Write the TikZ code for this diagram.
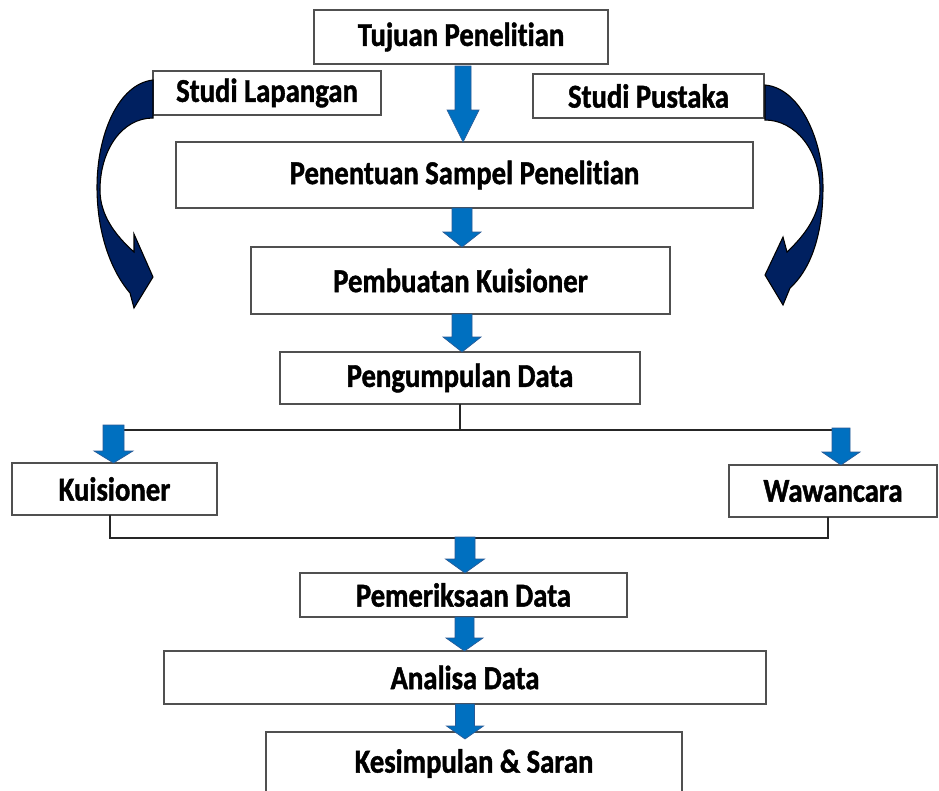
\documentclass[tikz,border=0pt]{standalone}
\usepackage{fontspec}
\setmainfont{Carlito}[FakeStretch=0.86, Ligatures={NoCommon}, BoldFeatures={FakeBold=1.3}]
\usetikzlibrary{calc}
\definecolor{arrblue}{RGB}{0,112,192}
\definecolor{arredge}{RGB}{40,90,150}
\definecolor{navy}{RGB}{0,32,96}
\definecolor{boxedge}{RGB}{80,80,80}
\tikzset{
  box/.style={draw=boxedge, line width=1.1pt, fill=white, inner sep=0pt, outer sep=0pt,
    font=\fontsize{25}{28}\selectfont\bfseries},
  sz/.style 2 args={minimum width=#1*0.75pt, minimum height=#2*0.75pt},
  conn/.style={draw=black!85, line width=1.7pt},
  blk/.style={fill=arrblue, draw=arredge, line width=0.5pt},
  curv/.style={fill=navy, draw=black, line width=0.8pt},
}
% #1 start, #2 tip, #3 shaft half width, #4 head half width, #5 head length (px)
\newcommand\barr[5]{\filldraw[blk] let \p1=(#1),\p2=(#2) in
  (\x1-#3*0.75pt,\y1) -- (\x1+#3*0.75pt,\y1) -- (\x1+#3*0.75pt,\y2+#5*0.75pt)
  -- (\x1+#4*0.75pt,\y2+#5*0.75pt) -- (\x1,\y2) -- (\x1-#4*0.75pt,\y2+#5*0.75pt)
  -- (\x1-#3*0.75pt,\y2+#5*0.75pt) -- cycle;}
\begin{document}
\begin{tikzpicture}[x=0.75pt,y=-0.75pt]
\useasboundingbox (0,0) rectangle (939,790);
\clip (0,0) rectangle (939,790);
\fill[white] (0,0) rectangle (939,790);

% boxes
\node[box,sz={294}{54}] (tuj) at (461,37) {Tujuan Penelitian};
\node[box,sz={228}{44}] (lap) at (267,93) {Studi Lapangan};
\node[box,sz={231}{44}] (pus) at (648.5,96) {Studi Pustaka};
\node[box,sz={577}{66}] (pen) at (464.5,175) {Penentuan Sampel Penelitian};
\node[box,sz={419}{67}] (pem) at (460.5,280.5) {Pembuatan Kuisioner};
\node[box,sz={360}{52}] (peng) at (460,378) {Pengumpulan Data};
\node[box,sz={205}{52}] (kui) at (114.5,489) {Kuisioner};
\node[box,sz={208}{52}] (waw) at (833,491) {Wawancara};
\node[box,sz={327}{44}] (per) at (463.5,595) {Pemeriksaan Data};
\node[box,sz={602}{53}] (ana) at (465,677.5) {Analisa Data};
\node[box,sz={416}{63}] (kes) at (474,763.5) {Kesimpulan \& Saran};

% connector lines
\coordinate (jl) at (113,430);
\coordinate (jr) at (841,430);
\coordinate (jm) at (peng.south |- jl);
\draw[conn] (peng.south) -- (jm);
\draw[conn] (jl) -- (jr);
\coordinate (kb) at (110,538);
\coordinate (wb) at (828,538);
\draw[conn] (kb |- kui.south) -- (kb) -- (wb) -- (wb |- waw.south);

% block arrows
\coordinate (a1) at (463,66);
\coordinate (a2) at (462,208);
\coordinate (a3) at (462,314);
\coordinate (a4) at (113.5,425);
\coordinate (a5) at (841,428);
\coordinate (a6) at (465,537);
\coordinate (a7) at (464.5,617);
\coordinate (a8) at (465,704);
\coordinate (t8) at (465,739);
\barr{a1}{pen.north}{8}{16}{32}
\barr{a2}{pem.north}{10}{19}{15}
\barr{a3}{peng.north}{10}{19}{15}
\barr{a4}{kui.north}{10.5}{19.5}{12}
\barr{a5}{waw.north}{9}{19}{13}
\barr{a6}{per.north}{10}{19.5}{14}
\barr{a7}{ana.north}{9.5}{18.5}{13}
\barr{a8}{t8}{9.5}{18.5}{13}

% curved arrows
\filldraw[curv] (153,80) .. controls (118,84) and (97,135) .. (97,187)
  .. controls (97,235) and (112,272) .. (130,293) -- (134,308) -- (153,277)
  -- (134,234) -- (134,252) .. controls (115,235) and (100,215) .. (100,190)
  .. controls (100,150) and (122,118) .. (153,118) -- cycle;
\filldraw[curv] (765,85) .. controls (800,88) and (823,140) .. (823,187)
  .. controls (823,240) and (808,272) .. (790,288) -- (783,305) -- (765,275)
  -- (783,237) -- (787,252) .. controls (805,235) and (820,215) .. (820,190)
  .. controls (820,150) and (795,120) .. (765,120) -- cycle;
\end{tikzpicture}
\end{document}
